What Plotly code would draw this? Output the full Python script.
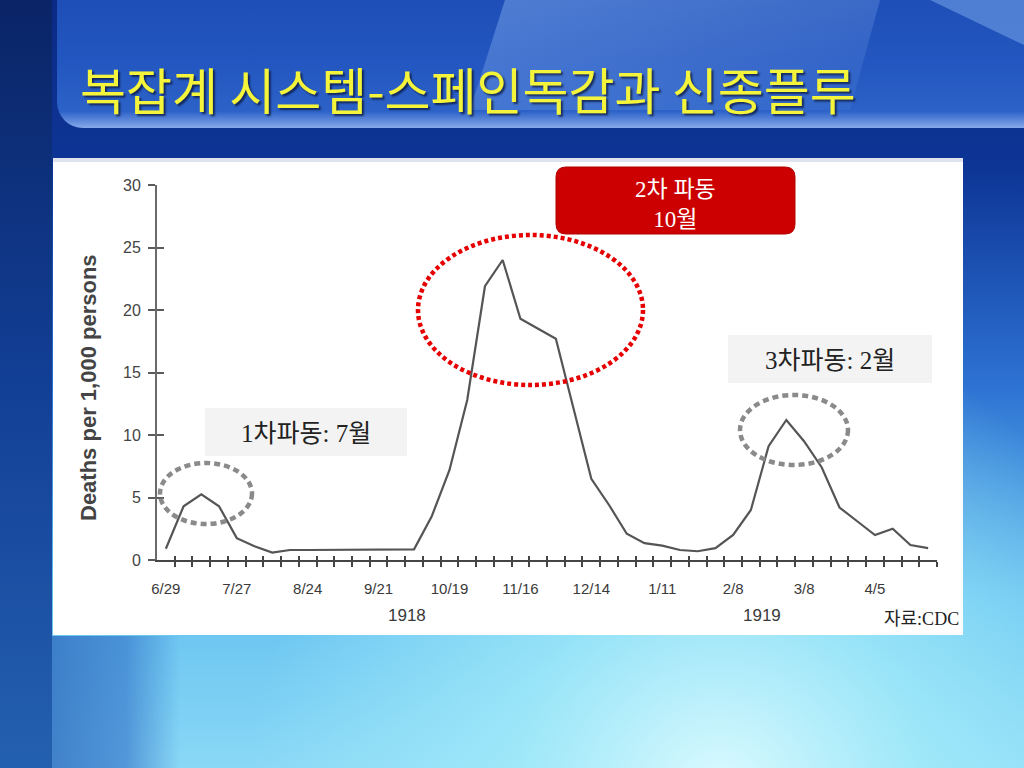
import base64
import plotly.graph_objects as go

# ---------------- data ----------------
week_labels = ["6/29", "7/27", "8/24", "9/21", "10/19", "11/16", "12/14",
               "1/11", "2/8", "3/8", "4/5"]
deaths_per_1000 = [0.9, 4.3, 5.25, 4.3, 1.75, 1.1, 0.6, 0.8, 0.8, 0.8,
                   0.8, 0.8, 0.8, 0.8, 0.85, 3.5, 7.2, 12.8, 21.9, 24.0,
                   19.3, 18.5, 17.7, 12.1, 6.5, 4.4, 2.1, 1.35, 1.15, 0.8,
                   0.7, 0.95, 2.0, 4.0, 9.1, 11.2, 9.5, 7.4, 4.2, 3.1,
                   2.0, 2.5, 1.2, 0.95]
year_labels = ["1918", "1919"]
year_label_weeks = [13.6, 33.6]
y_tick_values = [0, 5, 10, 15, 20, 25, 30]

weeks = list(range(len(deaths_per_1000)))
label_weeks = weeks[::4][:len(week_labels)]
minor_ticks = [w + 0.5 for w in weeks]

# ---------------- geometry helpers ----------------
W, H = 1024, 768
L, R, T, B = 157, 937, 185, 560


def px(x):
    return (x - L) / (R - L)


def py(y):
    return (B - y) / (B - T)


# ---------------- background image ----------------
svg = f"""<svg xmlns='http://www.w3.org/2000/svg' width='{W}' height='{H}' viewBox='0 0 {W} {H}'>
<defs>
<linearGradient id='bg' x1='0' y1='0' x2='0' y2='1'>
<stop offset='0' stop-color='#0b2a86'/>
<stop offset='0.22' stop-color='#0d3596'/>
<stop offset='0.5' stop-color='#2d72d2'/>
<stop offset='0.78' stop-color='#66c2f0'/>
<stop offset='1' stop-color='#8ad8f6'/>
</linearGradient>
<radialGradient id='glow' cx='720' cy='790' r='470' gradientUnits='userSpaceOnUse'>
<stop offset='0' stop-color='#e0fcff' stop-opacity='0.95'/>
<stop offset='0.45' stop-color='#a6eefa' stop-opacity='0.7'/>
<stop offset='1' stop-color='#a6eefa' stop-opacity='0'/>
</radialGradient>
<linearGradient id='left' x1='0' y1='0' x2='0' y2='1'>
<stop offset='0' stop-color='#0a2466'/>
<stop offset='0.5' stop-color='#123f96'/>
<stop offset='1' stop-color='#2460b0'/>
</linearGradient>
<linearGradient id='lowleft' x1='0' y1='0' x2='1' y2='0'>
<stop offset='0' stop-color='#2a66b8' stop-opacity='0.9'/>
<stop offset='0.7' stop-color='#3a7ccc' stop-opacity='0.7'/>
<stop offset='1' stop-color='#3a7ccc' stop-opacity='0'/>
</linearGradient>
<linearGradient id='bar' x1='0' y1='0' x2='0' y2='1'>
<stop offset='0' stop-color='#1b4ab2'/>
<stop offset='0.6' stop-color='#2356c0'/>
<stop offset='0.9' stop-color='#2c62c8'/>
<stop offset='1' stop-color='#86a8ea'/>
</linearGradient>
<linearGradient id='pane' x1='0' y1='0' x2='1' y2='1'>
<stop offset='0' stop-color='#8fb8f4' stop-opacity='0.45'/>
<stop offset='1' stop-color='#8fb8f4' stop-opacity='0.05'/>
</linearGradient>
</defs>
<rect width='{W}' height='{H}' fill='url(#bg)'/>
<rect width='{W}' height='{H}' fill='url(#glow)'/>
<rect x='0' y='636' width='180' height='132' fill='url(#lowleft)'/>
<rect x='0' y='0' width='52' height='{H}' fill='url(#left)'/>
<rect x='57' y='-40' width='1010' height='168' rx='26' fill='url(#bar)'/>
<polygon points='505,0 880,0 850,110 470,110' fill='url(#pane)'/>
<polygon points='930,0 1024,0 1024,45' fill='#8ab8f2' opacity='0.45'/>
</svg>"""
bg_uri = "data:image/svg+xml;base64," + base64.b64encode(svg.encode("utf-8")).decode("ascii")

# ---------------- figure ----------------
fig = go.Figure()

fig.add_trace(go.Scatter(
    x=weeks, y=deaths_per_1000, mode="lines",
    line=dict(color="#555555", width=2.2),
    showlegend=False, hoverinfo="skip",
))
# empty trace to create the overlay axes used for the inner half of the ticks
fig.add_trace(go.Scatter(x=[], y=[], xaxis="x2", yaxis="y2", showlegend=False))

axis_font = dict(family="Liberation Sans Narrow, Liberation Sans, Arial", size=15, color="#3a3a3a")

fig.update_layout(
    width=W, height=H,
    margin=dict(l=L, r=W - R, t=T, b=H - B, pad=0),
    paper_bgcolor="#1a4aa8",
    plot_bgcolor="rgba(0,0,0,0)",
    xaxis=dict(
        range=[-0.5, 43.5], tickmode="array", tickvals=label_weeks, ticktext=week_labels,
        ticks="", showgrid=False, zeroline=False, showline=True,
        linecolor="#454545", linewidth=2, tickfont=axis_font, ticklabelstandoff=14,
        minor=dict(tickmode="array", tickvals=minor_ticks, ticks="outside", ticklen=5,
                   tickwidth=1.5, tickcolor="#454545", showgrid=False),
        fixedrange=True,
    ),
    xaxis2=dict(
        range=[-0.5, 43.5], overlaying="x", anchor="y2", side="bottom",
        tickmode="array", tickvals=minor_ticks, ticks="inside", ticklen=4,
        tickwidth=1.5, tickcolor="#454545", showticklabels=False,
        showgrid=False, zeroline=False, showline=False, fixedrange=True,
    ),
    yaxis=dict(
        range=[0, 30], tickmode="array", tickvals=y_tick_values,
        ticks="outside", ticklen=7, tickwidth=1.5, tickcolor="#5a5a5a",
        showgrid=False, zeroline=False, showline=True, linecolor="#6a6a6a", linewidth=2,
        tickfont=dict(family="Liberation Sans, Arial", size=16, color="#444444"),
        ticklabelstandoff=4, fixedrange=True,
    ),
    yaxis2=dict(
        range=[0, 30], overlaying="y", anchor="x2", side="left",
        tickmode="array", tickvals=y_tick_values, ticks="inside", ticklen=7,
        tickwidth=1.5, tickcolor="#5a5a5a", showticklabels=False,
        showgrid=False, zeroline=False, showline=False, fixedrange=True,
    ),
    images=[dict(source=bg_uri, xref="paper", yref="paper", x=px(0), y=py(0),
                 sizex=px(W) - px(0), sizey=py(0) - py(H), xanchor="left", yanchor="top",
                 sizing="stretch", layer="below")],
)

shapes = []
# white chart panel
shapes.append(dict(type="rect", xref="paper", yref="paper", x0=px(53), x1=px(963),
                   y0=py(635), y1=py(158), fillcolor="white", line=dict(width=0), layer="below"))
shapes.append(dict(type="rect", xref="paper", yref="paper", x0=px(53), x1=px(963),
                   y0=py(162), y1=py(158), fillcolor="#dfe3ee", line=dict(width=0), layer="below"))
# grey label boxes
for (x0, y0, x1, y1) in [(205, 408, 407, 456), (728, 335, 932, 383)]:
    shapes.append(dict(type="rect", xref="paper", yref="paper", x0=px(x0), x1=px(x1),
                       y0=py(y1), y1=py(y0), fillcolor="#f3f3f3", line=dict(width=0), layer="below"))


# red rounded box
def rounded_path(x0, y0, x1, y1, r):
    pts = [("M", [(x0 + r, y0)]), ("L", [(x1 - r, y0)]), ("Q", [(x1, y0), (x1, y0 + r)]),
           ("L", [(x1, y1 - r)]), ("Q", [(x1, y1), (x1 - r, y1)]), ("L", [(x0 + r, y1)]),
           ("Q", [(x0, y1), (x0, y1 - r)]), ("L", [(x0, y0 + r)]), ("Q", [(x0, y0), (x0 + r, y0)])]
    s = ""
    for cmd, ps in pts:
        s += cmd + " " + " ".join(f"{px(a):.5f},{py(b):.5f}" for a, b in ps) + " "
    return s + "Z"


shapes.append(dict(type="path", xref="paper", yref="paper", path=rounded_path(556, 167, 795, 234, 10),
                   fillcolor="#cc0000", line=dict(color="#b00000", width=1), layer="above"))

# dotted ellipses
shapes.append(dict(type="circle", xref="paper", yref="paper", x0=px(160), x1=px(252),
                   y0=py(524), y1=py(463), line=dict(color="#8a8a8a", width=4.5, dash="6px,4px"),
                   layer="above"))
shapes.append(dict(type="circle", xref="paper", yref="paper", x0=px(418), x1=px(643),
                   y0=py(385), y1=py(235), line=dict(color="#e60000", width=4.5, dash="4px,3px"),
                   layer="above"))
shapes.append(dict(type="circle", xref="paper", yref="paper", x0=px(740), x1=px(848),
                   y0=py(465), y1=py(395), line=dict(color="#8a8a8a", width=4.5, dash="6px,4px"),
                   layer="above"))
fig.update_layout(shapes=shapes)

serif_kr = "Liberation Serif, Noto Sans CJK KR"
annotations = [
    dict(text="복잡계 시스템-스페인독감과 신종플루", x=px(78), y=py(88), xanchor="left", yanchor="middle",
         font=dict(family="Noto Sans CJK KR", size=50, color="#f4f43a", shadow="2px 2px 2px rgba(0,0,20,0.6)")),
    dict(text="Deaths per 1,000 persons", x=px(88), y=py(388), textangle=-90,
         xanchor="center", yanchor="middle",
         font=dict(family="Liberation Sans, Arial", size=22, color="#444444", weight="bold")),
    dict(text="1차파동: 7월", x=px(306), y=py(433), xanchor="center", yanchor="middle",
         font=dict(family=serif_kr, size=25, color="#222222")),
    dict(text="3차파동: 2월", x=px(830), y=py(360), xanchor="center", yanchor="middle",
         font=dict(family=serif_kr, size=25, color="#222222")),
    dict(text="2차 파동<br>10월", x=px(675), y=py(204), xanchor="center", yanchor="middle",
         font=dict(family=serif_kr, size=23, color="white")),
    dict(text="자료:CDC", x=px(961), y=py(619), xanchor="right", yanchor="middle",
         font=dict(family=serif_kr, size=18, color="#222222")),
]
for lab, wk in zip(year_labels, year_label_weeks):
    annotations.append(dict(text=lab, x=wk, xref="x", y=py(615), xanchor="center", yanchor="middle",
                            font=dict(family="Liberation Sans Narrow, Liberation Sans, Arial",
                                      size=17, color="#3a3a3a")))
for a in annotations:
    a.setdefault("xref", "paper")
    a.setdefault("yref", "paper")
    a["showarrow"] = False
fig.update_layout(annotations=annotations)

fig.write_html("out.html", config={"displayModeBar": False},
               post_script="document.body.style.margin='0';document.body.style.overflow='hidden';")
